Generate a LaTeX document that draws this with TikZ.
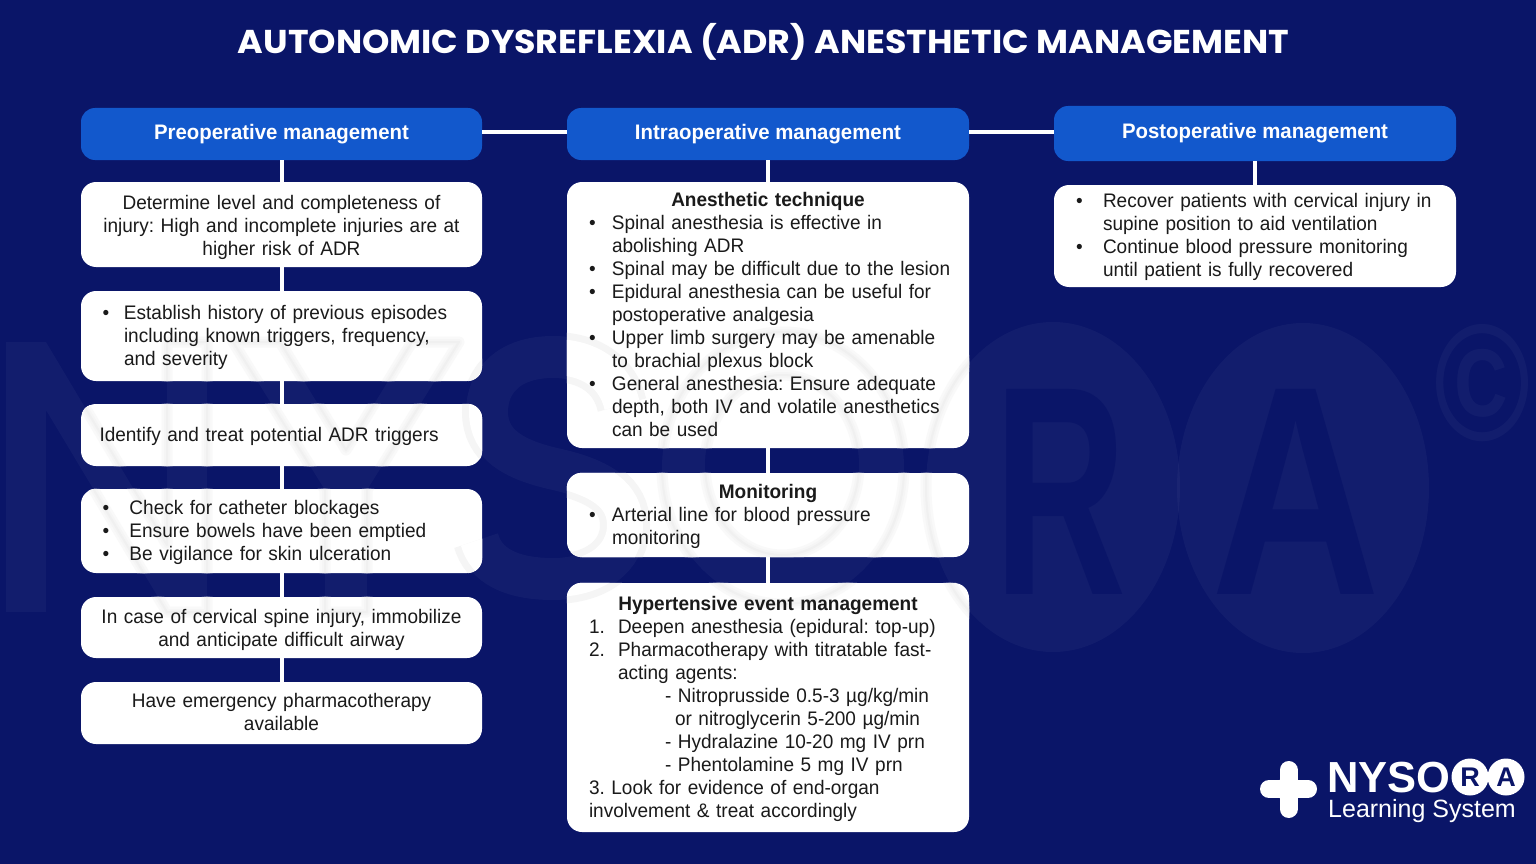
\documentclass[tikz,border=0pt]{standalone}
\usepackage{fontspec}
\usepackage{graphicx}
\setmainfont{Liberation Sans}[FakeStretch=0.97]
\newfontfamily\plainfont{Liberation Sans}
\newfontfamily\titlefont{Poppins}[FakeStretch=1.056]
\definecolor{navy}{HTML}{0A1568}
\definecolor{headblue}{HTML}{1258CC}
\definecolor{ink}{HTML}{1A1A1A}
\newcommand{\bul}[2]{\makebox[\dimexpr #1pt+7pt\relax][l]{\hspace{11pt}•}#2}
\newcommand{\num}[3]{\makebox[\dimexpr #1pt+7pt\relax][l]{\hspace{11pt}#2}#3}
\newcommand{\ind}[2]{\hspace*{\dimexpr #1pt+7pt\relax}#2}
\newcommand{\hd}[1]{\makebox[\linewidth][c]{\bfseries #1}}
\newcommand{\wmletter}[6]{\node[inner sep=0pt,#6] at ({(#1+#2)/2},{(#3+#4)/2}) {\resizebox{\dimexpr #2pt-#1pt\relax}{\dimexpr #4pt-#3pt\relax}{\plainfont\bfseries #5}};}
\newcommand{\pathN}{(6,342) -- (46,342) -- (167,545) -- (167,342) -- (207,342) -- (207,612) -- (167,612) -- (46,410) -- (46,612) -- (6,612) -- cycle}
\newcommand{\pathY}{(233,342) -- (280,342) -- (346,450) -- (412,342) -- (459,342) -- (367,490) -- (367,612) -- (325,612) -- (325,490) -- cycle}
\newcommand{\pathS}{(622,405) .. controls (615,375) and (590,357) .. (553,357) .. controls (510,357) and (487,380) .. (487,412) .. controls (487,445) and (515,460) .. (555,469) .. controls (600,479) and (625,495) .. (625,525) .. controls (625,558) and (595,579) .. (553,579) .. controls (510,579) and (485,565) .. (478,540)}
\newcommand{\wmedges}[1]{%
\draw[#1] \pathN;
\draw[#1] \pathY;
\draw[#1] (783,468) ellipse [x radius=121,y radius=136];
\draw[#1] (782,465) ellipse [x radius=77,y radius=90];
\draw[#1] (1053,487) ellipse [x radius=127,y radius=165];
}
\tikzset{
 hdr/.style={rectangle,rounded corners=14pt,fill=headblue,text=white,font=\fontsize{21}{24}\selectfont\bfseries,align=center,inner sep=0pt},
 card/.style={rectangle,rounded corners=15pt,fill=white,inner sep=0pt},
 cardtext/.style={text=ink,font=\fontsize{19.6}{23}\selectfont\frenchspacing,inner sep=0pt,text width=380pt,align=left},
 cardmid/.style={cardtext,align=center},
 conn/.style={draw=white,line width=4pt},
 wmfill/.style={white,opacity=0.035},
 edgewide/.style={draw=black!2.5,line width=11pt,line join=round},
 edgemid/.style={draw=black!4,line width=6pt,line join=round},
 edgethin/.style={draw=black!6,line width=2pt,line join=round}
}
\begin{document}
\begin{tikzpicture}[x=1pt,y=-1pt]
\useasboundingbox (0,0) rectangle (1536,864);
\fill[navy] (0,0) rectangle (1536,864);
% watermark on the background
\fill[wmfill] \pathN;
\fill[wmfill] \pathY;
\draw[white,opacity=0.035,line width=42pt] \pathS;
\fill[wmfill,even odd rule] (783,468) ellipse [x radius=121,y radius=136] (782,465) ellipse [x radius=77,y radius=90];
\fill[white,opacity=0.035] (1053,487) ellipse [x radius=127,y radius=165];
\fill[white,opacity=0.035] (1303,488) ellipse [x radius=126,y radius=165];
\wmletter{995}{1127}{389}{594}{R}{text=navy}
\wmletter{1212}{1381}{389}{594}{A}{text=navy}
\node[inner sep=0pt,text=white,opacity=.035] (wmc) at (1482,383) {\resizebox{96pt}{116pt}{\plainfont\bfseries ©}};
% title
\node[text=white,inner sep=0pt,font=\fontsize{33}{36}\titlefont\bfseries] (title) at (763.5,42) {AUTONOMIC DYSREFLEXIA (ADR) ANESTHETIC MANAGEMENT};
% headers
\node[hdr,minimum width=401pt,minimum height=52pt] (h1) at (281.5,134) {Preoperative management};
\node[hdr,minimum width=402pt,minimum height=52pt] (h2) at (768,134) {Intraoperative management};
\node[hdr,minimum width=402pt,minimum height=55pt] (h3) at (1255,133.5) {\raisebox{-2.5pt}{Postoperative management}};
% cards
\node[card,minimum width=401pt,minimum height=85pt] (a1) at (281.5,224.5) {};
\node[card,minimum width=401pt,minimum height=90pt] (a2) at (281.5,336) {};
\node[card,minimum width=401pt,minimum height=62pt] (a3) at (281.5,435) {};
\node[card,minimum width=401pt,minimum height=84pt] (a4) at (281.5,531) {};
\node[card,minimum width=401pt,minimum height=61pt] (a5) at (281.5,627.5) {};
\node[card,minimum width=401pt,minimum height=62pt] (a6) at (281.5,713) {};
\node[card,minimum width=402pt,minimum height=266pt] (b1) at (768,315) {};
\node[card,minimum width=402pt,minimum height=84pt] (b2) at (768,515) {};
\node[card,minimum width=402pt,minimum height=249pt] (b3) at (768,707.5) {};
\node[card,minimum width=402pt,minimum height=102pt] (c1) at (1255,236) {};
% connectors
\draw[conn] ([yshift=1.5pt]h1.east) -- ([yshift=1.5pt]h2.west);
\draw[conn] ([yshift=1.5pt]h2.east) -- ([yshift=1.5pt]h2.east -| h3.west);
\draw[conn] (h1.south) -- (a1.north);
\draw[conn] (a1.south) -- (a2.north);
\draw[conn] (a2.south) -- (a3.north);
\draw[conn] (a3.south) -- (a4.north);
\draw[conn] (a4.south) -- (a5.north);
\draw[conn] (a5.south) -- (a6.north);
\draw[conn] (h2.south) -- (b1.north);
\draw[conn] (b1.south) -- (b2.north);
\draw[conn] (b2.south) -- (b3.north);
\draw[conn] (h3.south) -- (c1.north);
% watermark seen as soft edges across the white cards
\begin{scope}
\clip[rounded corners=15pt] (a1.south west) rectangle (a1.north east) (a2.south west) rectangle (a2.north east)
 (a3.south west) rectangle (a3.north east) (a4.south west) rectangle (a4.north east)
 (a5.south west) rectangle (a5.north east) (b1.south west) rectangle (b1.north east)
 (b2.south west) rectangle (b2.north east) (b3.south west) rectangle (b3.north east);
\draw[draw=black!4,line width=7pt,double=white,double distance=36pt] \pathS;
\wmedges{edgewide}
\wmedges{edgemid}
\wmedges{edgethin}
\end{scope}
% card texts
\node[cardmid,yshift=-2.5pt] (a1t) at (a1) {Determine level and completeness of\\injury: High and incomplete injuries are at\\higher risk of ADR};
\node[cardtext,yshift=-1pt] (a2t) at (a2) {\bul{25.5}{Establish history of previous episodes}\\\ind{25.5}{including known triggers, frequency,}\\\ind{25.5}{and severity}};
\node[cardtext,yshift=-1.5pt] (a3t) at (a3) {\hspace*{8pt}Identify and treat potential ADR triggers};
\node[cardtext,yshift=-1pt] (a4t) at (a4) {\bul{31}{Check for catheter blockages}\\\bul{31}{Ensure bowels have been emptied}\\\bul{31}{Be vigilance for skin ulceration}};
\node[cardmid,yshift=-2pt] (a5t) at (a5) {In case of cervical spine injury, immobilize\\and anticipate difficult airway};
\node[cardmid,yshift=1pt] (a6t) at (a6) {Have emergency pharmacotherapy\\available};
\node[cardtext,yshift=0.5pt] (b1t) at (b1) {\hd{Anesthetic technique}\\\bul{27}{Spinal anesthesia is effective in}\\\ind{27}{abolishing ADR}\\\bul{27}{Spinal may be difficult due to the lesion}\\\bul{27}{Epidural anesthesia can be useful for}\\\ind{27}{postoperative analgesia}\\\bul{27}{Upper limb surgery may be amenable}\\\ind{27}{to brachial plexus block}\\\bul{27}{General anesthesia: Ensure adequate}\\\ind{27}{depth, both IV and volatile anesthetics}\\\ind{27}{can be used}};
\node[cardtext,yshift=-1pt] (b2t) at (b2) {\hd{Monitoring}\\\bul{27}{Arterial line for blood pressure}\\\ind{27}{monitoring}};
\node[cardtext,yshift=-1pt] (b3t) at (b3) {\hd{Hypertensive event management}\\\num{33}{1.}{Deepen anesthesia (epidural: top-up)}\\\num{33}{2.}{Pharmacotherapy with titratable fast-}\\\ind{33}{acting agents:}\\\ind{80}{- Nitroprusside 0.5-3 µg/kg/min}\\\ind{90}{or nitroglycerin 5-200 µg/min}\\\ind{80}{- Hydralazine 10-20 mg IV prn}\\\ind{80}{- Phentolamine 5 mg IV prn}\\\hspace*{11pt}3. Look for evidence of end-organ\\\hspace*{11pt}involvement \& treat accordingly};
\node[cardtext,yshift=-1pt] (c1t) at (c1) {\bul{31}{Recover patients with cervical injury in}\\\ind{31}{supine position to aid ventilation}\\\bul{31}{Continue blood pressure monitoring}\\\ind{31}{until patient is fully recovered}};
% logo
\fill[white,rounded corners=4pt] (1288.5,771) -- (1306.5,789) -- (1288.5,807) -- (1270.5,789) -- cycle;
\draw[white,line width=18pt,line cap=round] (1269,789) -- (1308,789);
\draw[white,line width=18pt,line cap=round] (1288.5,770) -- (1288.5,809);
\node[text=white,inner sep=0pt,anchor=base west,font=\fontsize{43.5}{46}\plainfont\bfseries] (lg1) at (1327,792) {NYSO};
\node[circle,fill=white,minimum size=37pt,inner sep=0pt,text=navy,font=\fontsize{27}{28}\plainfont\bfseries] (lgr) at (1470,777) {R};
\node[circle,fill=white,minimum size=37pt,inner sep=0pt,text=navy,font=\fontsize{27}{28}\plainfont\bfseries] (lga) at (1506,777) {A};
\node[text=white,inner sep=0pt,anchor=base west,font=\fontsize{25}{27}\plainfont] (lg2) at (1328,817) {Learning System};
\end{tikzpicture}
\end{document}
